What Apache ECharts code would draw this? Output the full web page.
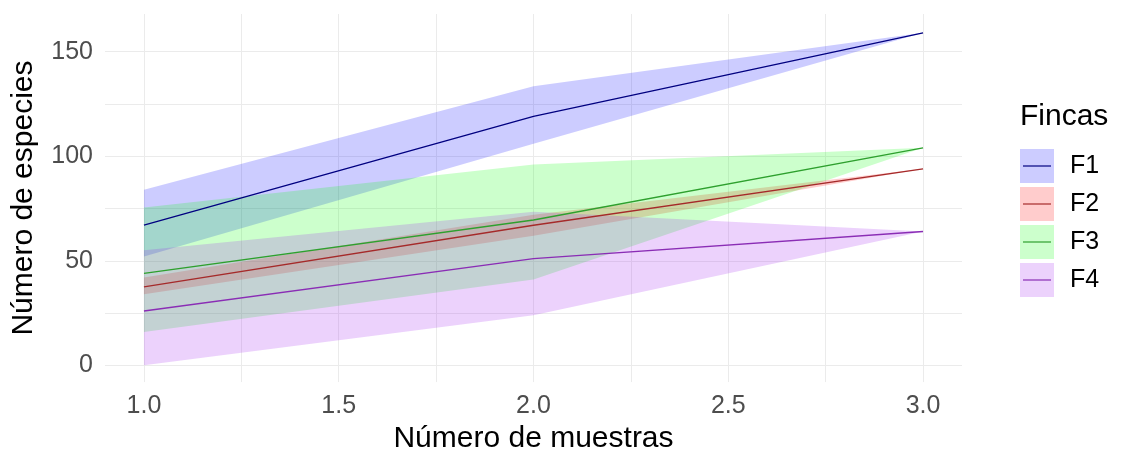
<!DOCTYPE html>
<html>
<head>
<meta charset="utf-8">
<script src="https://cdn.jsdelivr.net/npm/echarts@6/dist/echarts.min.js"></script>
<style>
html,body{margin:0;padding:0;background:#fff;}
#chart{width:1122px;height:459px;}
</style>
</head>
<body>
<div id="chart"></div>
<script>
// ---- data ----
const muestras = [1, 2, 3];
const fincas = ['F1', 'F2', 'F3', 'F4'];
const F1_mean = [67, 119, 159];
const F1_lo   = [52, 106, 159];
const F1_hi   = [84, 133.5, 159];
const F2_mean = [37.5, 67, 94];
const F2_lo   = [34, 62, 94];
const F2_hi   = [42, 72, 94];
const F3_mean = [44, 69.5, 104];
const F3_lo   = [16, 41, 104];
const F3_hi   = [75.5, 96, 104];
const F4_mean = [26, 51, 64];
const F4_lo   = [0, 24, 64];
const F4_hi   = [55, 73.5, 64];
const xTickLabels = [1.0, 1.5, 2.0, 2.5, 3.0];
const yTickLabels = [0, 50, 100, 150];
const xGrid = [1, 1.25, 1.5, 1.75, 2, 2.25, 2.5, 2.75, 3];
const yGrid = [0, 25, 50, 75, 100, 125, 150];

// ---- styles ----
const FONT = "'Liberation Sans', Arial, sans-serif";
const fillColors = ['rgba(0,0,255,0.2)', 'rgba(255,0,0,0.2)', 'rgba(0,255,0,0.2)', 'rgba(160,32,240,0.2)'];
const legendFill = ['#ccccff', '#ffcccc', '#ccffcc', '#ecd2fc'];
const lineColors = ['#000080', '#a52a2a', '#2ea02e', '#8a2db5'];

const means = [F1_mean, F2_mean, F3_mean, F4_mean];
const los = [F1_lo, F2_lo, F3_lo, F4_lo];
const his = [F1_hi, F2_hi, F3_hi, F4_hi];

const series = [];
fincas.forEach((name, i) => {
  series.push({
    type: 'custom', name: name, coordinateSystem: 'cartesian2d',
    data: muestras.map((x, j) => [x, los[i][j], his[i][j]]),
    encode: {x: 0, y: [1, 2]},
    silent: true, z: 1,
    renderItem: (params, api) => {
      if (params.dataIndex !== 0) return null;
      const top = muestras.map((x, j) => api.coord([x, his[i][j]]));
      const bot = muestras.map((x, j) => api.coord([x, los[i][j]])).reverse();
      return {
        type: 'polygon',
        shape: {points: top.concat(bot)},
        style: {fill: fillColors[i], stroke: null}
      };
    }
  });
});
fincas.forEach((name, i) => {
  series.push({
    type: 'line', name: name,
    data: muestras.map((x, j) => [x, means[i][j]]),
    symbol: 'none', lineStyle: {color: lineColors[i], width: 1.3}, z: 3
  });
});

const chart = echarts.init(document.getElementById('chart'), null, {renderer: 'canvas'});
chart.setOption({
  animation: false,
  backgroundColor: '#ffffff',
  title: {
    text: 'Fincas', left: 1015, top: 97,
    textStyle: {fontFamily: FONT, fontSize: 30, fontWeight: 'normal', color: '#000'}
  },
  legend: [
    {
      orient: 'vertical', left: 1020, top: 149, padding: 0,
      itemWidth: 34, itemHeight: 34, itemGap: 4,
      selectedMode: false,
      formatter: () => '',
      data: fincas.map((n, i) => ({name: n, icon: 'rect', itemStyle: {color: legendFill[i], borderWidth: 0}}))
    },
    {
      orient: 'vertical', left: 1020, top: 149, padding: 0,
      itemWidth: 34, itemHeight: 34, itemGap: 4,
      selectedMode: false,
      textStyle: {fontFamily: FONT, fontSize: 25, color: '#000', padding: [0, 0, 0, 11]},
      data: fincas.map((n, i) => ({
        name: n,
        icon: 'path://M0 0 M34 34 M3 16.4 L31 16.4 L31 17.6 L3 17.6 Z',
        itemStyle: {color: lineColors[i], borderWidth: 0}
      }))
    }
  ],
  grid: {left: 105, right: 160, top: 14, bottom: 74, containLabel: false},
  xAxis: {
    type: 'value', min: 0.9, max: 3.1,
    name: 'Número de muestras', nameLocation: 'middle', nameGap: 35,
    nameTextStyle: {fontFamily: FONT, fontSize: 30, color: '#000'},
    axisLine: {show: false},
    axisTick: {show: false, customValues: xGrid},
    axisLabel: {
      customValues: xTickLabels, margin: 12,
      fontFamily: FONT, fontSize: 25, color: '#4d4d4d',
      formatter: v => Number(v).toFixed(1)
    },
    splitLine: {show: true, lineStyle: {color: '#ebebeb', width: 1}}
  },
  yAxis: {
    type: 'value', min: -8, max: 168,
    name: 'Número de especies', nameLocation: 'middle', nameRotate: 90, nameGap: 66,
    nameTextStyle: {fontFamily: FONT, fontSize: 30, color: '#000'},
    axisLine: {show: false},
    axisTick: {show: false, customValues: yGrid},
    axisLabel: {
      customValues: yTickLabels, margin: 12,
      fontFamily: FONT, fontSize: 25, color: '#4d4d4d'
    },
    splitLine: {show: true, lineStyle: {color: '#ebebeb', width: 1}}
  },
  series: series
});
</script>
</body>
</html>
